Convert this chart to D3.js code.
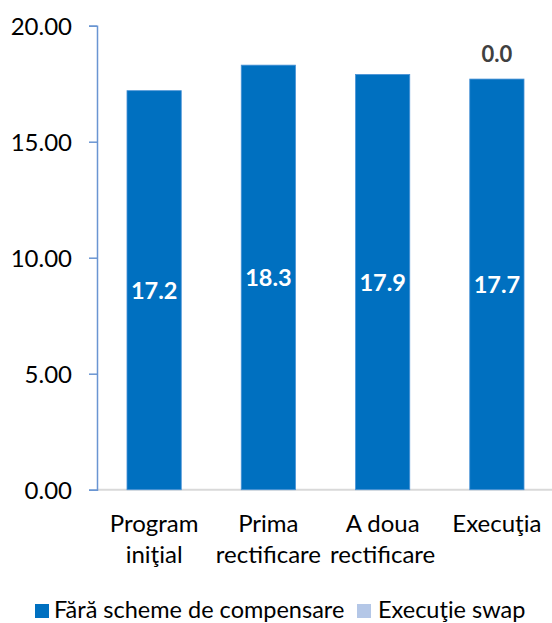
<!DOCTYPE html>
<html><head><meta charset="utf-8">
<script src="https://cdn.jsdelivr.net/npm/d3@7"></script>
<style>body{margin:0;background:#fff;} text{font-family:Lato,"Noto Sans",sans-serif;}</style>
</head><body>
<svg id="c" width="552" height="623"></svg>
<script>
const categories = [["Program","iniţial"],["Prima","rectificare"],["A doua","rectificare"],["Execuţia"]];
const seriesNames = ["Fără scheme de compensare","Execuţie swap"];
const baseValues = [17.2, 18.3, 17.9, 17.7];
const swapValues = [null, null, null, 0.0];
const yTicks = [0, 5, 10, 15, 20];
const colors = ["#0070C0", "#B4C7E7"];

const svg = d3.select("#c");
const m = {l:97, r:-2, t:25.7, b:133.3};
const W = 552, H = 623;
const x = d3.scaleBand().domain(d3.range(categories.length)).range([m.l, W - m.r]).paddingInner(0.525).paddingOuter(0.2625);
const y = d3.scaleLinear().domain([0, 20]).range([H - m.b, m.t]);

// x axis line (gray)
svg.append("line").attr("x1", m.l).attr("x2", W).attr("y1", y(0)).attr("y2", y(0))
  .attr("stroke", "#D9D9D9").attr("stroke-width", 2);

// y axis
const yAxis = d3.axisLeft(y).tickValues(yTicks).tickFormat(d3.format(".2f")).tickSize(8).tickPadding(17);
const ga = svg.append("g").attr("transform", `translate(${m.l},0)`).call(yAxis);
ga.select(".domain").attr("stroke", "#6A95D2").attr("stroke-width", 1.5);
ga.selectAll(".tick line").attr("stroke", "#6A95D2").attr("stroke-width", 1.5);
ga.selectAll(".tick text").attr("font-size", 24).attr("fill", "#000").attr("font-family", "Lato")
  .attr("dy", null).attr("y", 9);

// bars
svg.selectAll("rect.b").data(baseValues).enter().append("rect")
  .attr("x", (d,i) => x(i)).attr("width", x.bandwidth())
  .attr("y", d => y(d)).attr("height", d => y(0) - y(d))
  .attr("fill", colors[0]).attr("stroke", "#4B93D6").attr("stroke-width", 0.8);

// base labels
svg.selectAll("text.bl").data(baseValues).enter().append("text")
  .attr("x", (d,i) => x(i) + x.bandwidth()/2)
  .attr("y", d => (y(d) + y(0))/2 + 8.6)
  .attr("text-anchor", "middle")
  .attr("font-size", 23.5).attr("font-weight", "bold").attr("fill", "#fff")
  .text(d => d3.format(".1f")(d));

// swap labels
swapValues.forEach((v, i) => {
  if (v === null) return;
  svg.append("text").attr("x", x(i) + x.bandwidth()/2)
    .attr("y", y(baseValues[i] + v) - 17)
    .attr("text-anchor", "middle").attr("font-size", 22).attr("font-weight", "bold")
    .attr("fill", "#404040").text(d3.format(".1f")(v));
});

// category labels
categories.forEach((lines, i) => {
  const t = svg.append("text").attr("text-anchor", "middle").attr("font-size", 24).attr("fill", "#000");
  lines.forEach((ln, j) => {
    t.append("tspan").attr("x", x(i) + x.bandwidth()/2).attr("y", 532 + j*31).text(ln);
  });
});

// legend
const lg = svg.append("g");
const items = [{x:35, tx:54, name:seriesNames[0], c:colors[0]}, {x:357, tx:378, name:seriesNames[1], c:colors[1]}];
items.forEach(it => {
  lg.append("rect").attr("x", it.x).attr("y", 604).attr("width", 14).attr("height", 14).attr("fill", it.c);
  lg.append("text").attr("x", it.tx).attr("y", 618)
    .attr("font-size", 23.5).attr("fill", "#000").text(it.name);
});
</script>
</body></html>
